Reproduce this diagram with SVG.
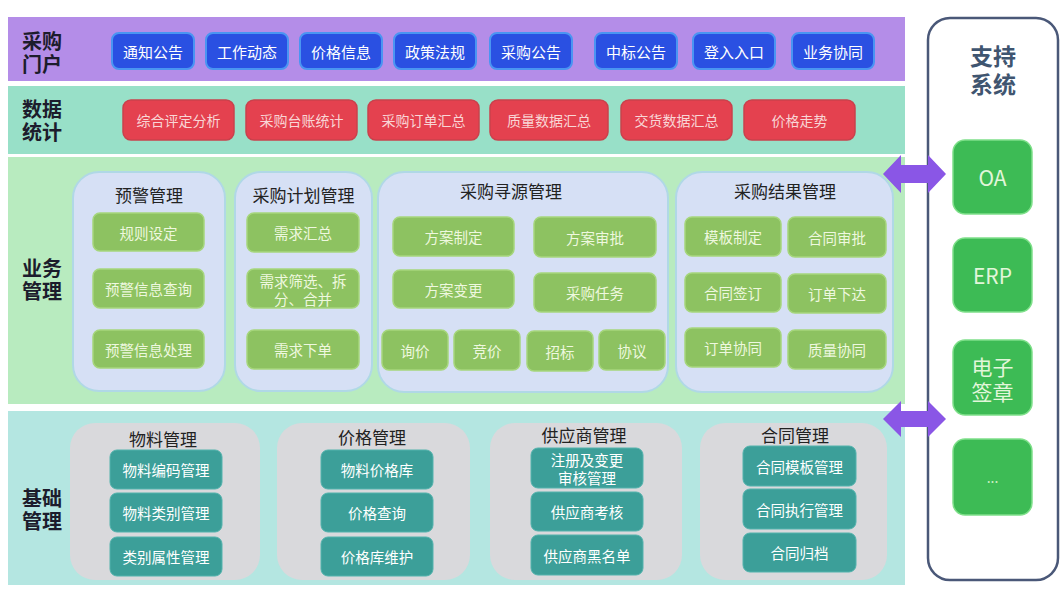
<svg xmlns="http://www.w3.org/2000/svg" width="1063" height="592" viewBox="0 0 1063 592">
<style>
text,tspan{font-family:"Noto Sans CJK SC","Noto Sans",sans-serif;text-anchor:middle;dominant-baseline:central}
.lbl{font-size:20px;font-weight:bold;fill:#1c1c2c}
.portal{fill:#2a50e2;stroke:#4a95f2;stroke-width:2}
.pt{font-size:15px;fill:#ffffff}
.red{fill:#e4414f;stroke:#c9414c;stroke-width:1.5}
.rt{font-size:14px;fill:#f9d6d6}
.bg{fill:#d6e0f5;stroke:#b0d8e6;stroke-width:2}
.gt{font-size:17px;fill:#222222}
.gi{fill:#8dc261;stroke:#a6d67c;stroke-width:1.5}
.git{font-size:14.5px;fill:#eef8df}
.cg{fill:#d9d9dc}
.ti{fill:#3c9f99;stroke:#52b3ad;stroke-width:1}
.tit{font-size:14.5px;fill:#ffffff}
.sys{fill:#3dbb55;stroke:#7fe08a;stroke-width:1.5}
.st{font-size:21px;fill:#e2f6da}
.arrow{fill:#8a56e6}
</style>
<rect width="1063" height="592" fill="#ffffff"/>
<g id="bands">
<rect x="8" y="17" width="897" height="64" fill="#b48de8"/>
<rect x="8" y="86" width="897" height="68" fill="#98e0c8"/>
<rect x="8" y="157" width="897" height="247" fill="#b8ebbf"/>
<rect x="8" y="411" width="897" height="174" fill="#b4e6e1"/>
</g>
<g id="labels">
<text class="lbl"><tspan x="42" y="40">采购</tspan><tspan x="42" y="63">门户</tspan></text>
<text class="lbl"><tspan x="42" y="108">数据</tspan><tspan x="42" y="131">统计</tspan></text>
<text class="lbl"><tspan x="42" y="267">业务</tspan><tspan x="42" y="290">管理</tspan></text>
<text class="lbl"><tspan x="42" y="497">基础</tspan><tspan x="42" y="520">管理</tspan></text>
</g>
<g id="portal">
<g id="p1"><rect class="portal" x="112" y="33" width="82" height="36" rx="7"/><text class="pt" x="153" y="51">通知公告</text></g>
<g id="p2"><rect class="portal" x="206" y="33" width="82" height="36" rx="7"/><text class="pt" x="247" y="51">工作动态</text></g>
<g id="p3"><rect class="portal" x="300" y="33" width="82" height="36" rx="7"/><text class="pt" x="341" y="51">价格信息</text></g>
<g id="p4"><rect class="portal" x="394" y="33" width="82" height="36" rx="7"/><text class="pt" x="435" y="51">政策法规</text></g>
<g id="p5"><rect class="portal" x="490" y="33" width="82" height="36" rx="7"/><text class="pt" x="531" y="51">采购公告</text></g>
<g id="p6"><rect class="portal" x="595" y="33" width="82" height="36" rx="7"/><text class="pt" x="636" y="51">中标公告</text></g>
<g id="p7"><rect class="portal" x="693" y="33" width="82" height="36" rx="7"/><text class="pt" x="734" y="51">登入入口</text></g>
<g id="p8"><rect class="portal" x="792" y="33" width="82" height="36" rx="7"/><text class="pt" x="833" y="51">业务协同</text></g>
</g>
<g id="stats">
<g id="s1"><rect class="red" x="123" y="100" width="111" height="40" rx="8"/><text class="rt" x="178.5" y="120">综合评定分析</text></g>
<g id="s2"><rect class="red" x="246" y="100" width="111" height="40" rx="8"/><text class="rt" x="301.5" y="120">采购台账统计</text></g>
<g id="s3"><rect class="red" x="368" y="100" width="111" height="40" rx="8"/><text class="rt" x="423.5" y="120">采购订单汇总</text></g>
<g id="s4"><rect class="red" x="490" y="100" width="118" height="40" rx="8"/><text class="rt" x="549" y="120">质量数据汇总</text></g>
<g id="s5"><rect class="red" x="621" y="100" width="111" height="40" rx="8"/><text class="rt" x="676.5" y="120">交货数据汇总</text></g>
<g id="s6"><rect class="red" x="744" y="100" width="111" height="40" rx="8"/><text class="rt" x="799.5" y="120">价格走势</text></g>
</g>
<g id="warning">
<rect class="bg" x="73" y="172" width="152" height="219" rx="26"/>
<text class="gt" x="149" y="194">预警管理</text>
<rect class="gi" x="93" y="213" width="111" height="38" rx="7"/><text class="git" x="148.5" y="232">规则设定</text>
<rect class="gi" x="93" y="269" width="111" height="39" rx="7"/><text class="git" x="148.5" y="288.5">预警信息查询</text>
<rect class="gi" x="93" y="330" width="111" height="38" rx="7"/><text class="git" x="148.5" y="349">预警信息处理</text>
</g>
<g id="plan">
<rect class="bg" x="235" y="172" width="137" height="219" rx="26"/>
<text class="gt" x="303.5" y="194">采购计划管理</text>
<rect class="gi" x="247" y="213" width="112" height="39" rx="7"/><text class="git" x="303" y="232.5">需求汇总</text>
<rect class="gi" x="247" y="269" width="112" height="39" rx="7"/><text class="git"><tspan x="303" y="280">需求筛选、拆</tspan><tspan x="303" y="298">分、合并</tspan></text>
<rect class="gi" x="247" y="330" width="112" height="39" rx="7"/><text class="git" x="303" y="349.5">需求下单</text>
</g>
<g id="sourcing">
<rect class="bg" x="378" y="172" width="290" height="220" rx="26"/>
<text class="gt" x="511" y="190">采购寻源管理</text>
<rect class="gi" x="393" y="217" width="121" height="39" rx="7"/><text class="git" x="453.5" y="236.5">方案制定</text>
<rect class="gi" x="534" y="217" width="122" height="40" rx="7"/><text class="git" x="595" y="237">方案审批</text>
<rect class="gi" x="393" y="270" width="121" height="38" rx="7"/><text class="git" x="453.5" y="289">方案变更</text>
<rect class="gi" x="534" y="273" width="122" height="39" rx="7"/><text class="git" x="595" y="292.5">采购任务</text>
<rect class="gi" x="382" y="330" width="66" height="40" rx="7"/><text class="git" x="415" y="350">询价</text>
<rect class="gi" x="454" y="330" width="66" height="40" rx="7"/><text class="git" x="487" y="350">竞价</text>
<rect class="gi" x="527" y="331" width="66" height="40" rx="7"/><text class="git" x="560" y="351">招标</text>
<rect class="gi" x="599" y="330" width="66" height="40" rx="7"/><text class="git" x="632" y="350">协议</text>
</g>
<g id="result">
<rect class="bg" x="676" y="172" width="217" height="220" rx="26"/>
<text class="gt" x="785" y="190">采购结果管理</text>
<rect class="gi" x="685" y="217" width="96" height="39" rx="7"/><text class="git" x="733" y="236.5">模板制定</text>
<rect class="gi" x="788" y="217" width="98" height="40" rx="7"/><text class="git" x="837" y="237">合同审批</text>
<rect class="gi" x="685" y="273" width="96" height="39" rx="7"/><text class="git" x="733" y="292.5">合同签订</text>
<rect class="gi" x="788" y="274" width="98" height="39" rx="7"/><text class="git" x="837" y="293.5">订单下达</text>
<rect class="gi" x="685" y="328" width="96" height="39" rx="7"/><text class="git" x="733" y="347.5">订单协同</text>
<rect class="gi" x="788" y="330" width="98" height="39" rx="7"/><text class="git" x="837" y="349.5">质量协同</text>
</g>
<g id="material">
<rect class="cg" x="70" y="423" width="190" height="157" rx="25"/>
<text class="gt" x="163" y="438">物料管理</text>
<rect class="ti" x="110" y="450" width="112" height="39" rx="7"/><text class="tit" x="166" y="469.5">物料编码管理</text>
<rect class="ti" x="110" y="493" width="112" height="39" rx="7"/><text class="tit" x="166" y="512.5">物料类别管理</text>
<rect class="ti" x="110" y="537" width="112" height="39" rx="7"/><text class="tit" x="166" y="556.5">类别属性管理</text>
</g>
<g id="price">
<rect class="cg" x="277" y="423" width="193" height="157" rx="25"/>
<text class="gt" x="372" y="436">价格管理</text>
<rect class="ti" x="321" y="450" width="112" height="39" rx="7"/><text class="tit" x="377" y="469.5">物料价格库</text>
<rect class="ti" x="321" y="493" width="112" height="39" rx="7"/><text class="tit" x="377" y="512.5">价格查询</text>
<rect class="ti" x="321" y="537" width="112" height="39" rx="7"/><text class="tit" x="377" y="556.5">价格库维护</text>
</g>
<g id="supplier">
<rect class="cg" x="490" y="423" width="192" height="157" rx="25"/>
<text class="gt" x="584" y="434">供应商管理</text>
<rect class="ti" x="531" y="448" width="112" height="40" rx="7"/><text class="tit"><tspan x="587" y="459">注册及变更</tspan><tspan x="587" y="477">审核管理</tspan></text>
<rect class="ti" x="531" y="492" width="112" height="39" rx="7"/><text class="tit" x="587" y="511.5">供应商考核</text>
<rect class="ti" x="531" y="535" width="112" height="40" rx="7"/><text class="tit" x="587" y="555">供应商黑名单</text>
</g>
<g id="contract">
<rect class="cg" x="700" y="423" width="187" height="157" rx="25"/>
<text class="gt" x="795" y="434">合同管理</text>
<rect class="ti" x="743" y="446" width="113" height="40" rx="7"/><text class="tit" x="799.5" y="466">合同模板管理</text>
<rect class="ti" x="743" y="489" width="113" height="40" rx="7"/><text class="tit" x="799.5" y="509">合同执行管理</text>
<rect class="ti" x="743" y="533" width="113" height="39" rx="7"/><text class="tit" x="799.5" y="552.5">合同归档</text>
</g>
<g id="support">
<rect x="928" y="18" width="130" height="562" rx="22" fill="#ffffff" stroke="#4a5878" stroke-width="2.5"/>
<text font-size="23" font-weight="bold" fill="#3f5570"><tspan x="993" y="55">支持</tspan><tspan x="993" y="83">系统</tspan></text>
<g id="oa"><rect class="sys" x="953" y="140" width="79" height="74" rx="12"/><text class="st" x="992.5" y="177">OA</text></g>
<g id="erp"><rect class="sys" x="953" y="238" width="79" height="74" rx="12"/><text class="st" x="992.5" y="275">ERP</text></g>
<g id="esign"><rect class="sys" x="953" y="340" width="79" height="75" rx="12"/><text class="st"><tspan x="992.5" y="366">电子</tspan><tspan x="992.5" y="391">签章</tspan></text></g>
<g id="more"><rect class="sys" x="953" y="439" width="79" height="76" rx="12"/><text x="992.5" y="477" font-size="14" fill="#c8f0c0">...</text></g>
</g>
<g id="connectors">
<polygon class="arrow" points="883,174 901,155 901,165 928,165 928,155 946,174 928,193 928,183 901,183 901,193"/>
<polygon class="arrow" points="883,419 901,401 901,411 928,411 928,401 946,419 928,437 928,427 901,427 901,437"/>
</g>
</svg>
